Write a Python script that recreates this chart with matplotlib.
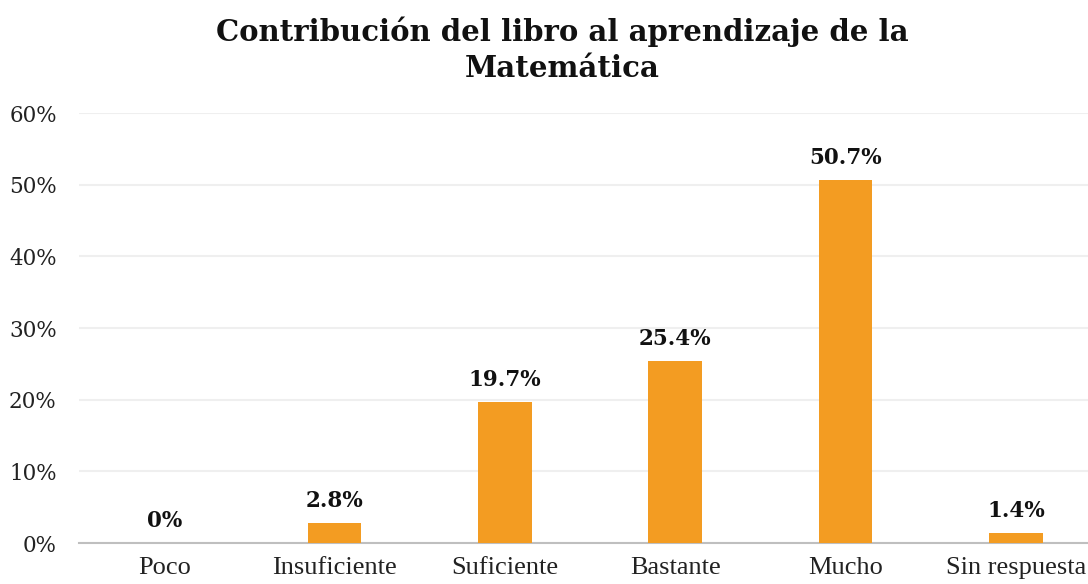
import matplotlib
matplotlib.use('Agg')
import matplotlib.pyplot as plt
import numpy as np

categories = ['Poco', 'Insuficiente', 'Suficiente', 'Bastante', 'Mucho', 'Sin respuesta']
values = [0.0, 2.8, 19.7, 25.4, 50.7, 1.4]
labels = ['0%', '2.8%', '19.7%', '25.4%', '50.7%', '1.4%']
yticks = [0, 10, 20, 30, 40, 50, 60]

fig = plt.figure(figsize=(10.88, 5.84), dpi=100)
ax = fig.add_axes([79/1088, 41/584, 1022/1088, 430/584])

x = np.arange(len(categories))
ax.bar(x, values, width=0.317, color='#F39C22', zorder=3)

for i in range(len(values)):
    ax.annotate(labels[i], (x[i], values[i]), xytext=(0, 8), textcoords='offset points',
                ha='center', va='bottom', fontsize=15.5, fontweight='bold',
                family='DejaVu Serif', color='#111111')

ax.set_xlim(-0.5, 5.5)
ax.set_ylim(0, 60)
ax.set_yticks(yticks)
ax.set_yticklabels(['{}%'.format(t) for t in yticks], family='DejaVu Serif', fontsize=15.5)
ax.set_xticks(x)
ax.set_xticklabels(categories, family='Liberation Serif', fontsize=19)
ax.tick_params(axis='both', length=0, colors='#222222')
ax.tick_params(axis='y', pad=16)
ax.tick_params(axis='x', pad=10)
ax.grid(axis='y', color='#EFEFEF', linewidth=1.5, zorder=0)

for s in ['top', 'right', 'left']:
    ax.spines[s].set_visible(False)
ax.spines['bottom'].set_color('#BFBFBF')
ax.spines['bottom'].set_linewidth(1.5)

fig.text(0.517, 0.972, 'Contribución del libro al aprendizaje de la\nMatemática',
         ha='center', va='top', fontsize=21, fontweight='bold', family='DejaVu Serif',
         linespacing=1.3, color='#111111')

fig.savefig('out.png', dpi=100)
